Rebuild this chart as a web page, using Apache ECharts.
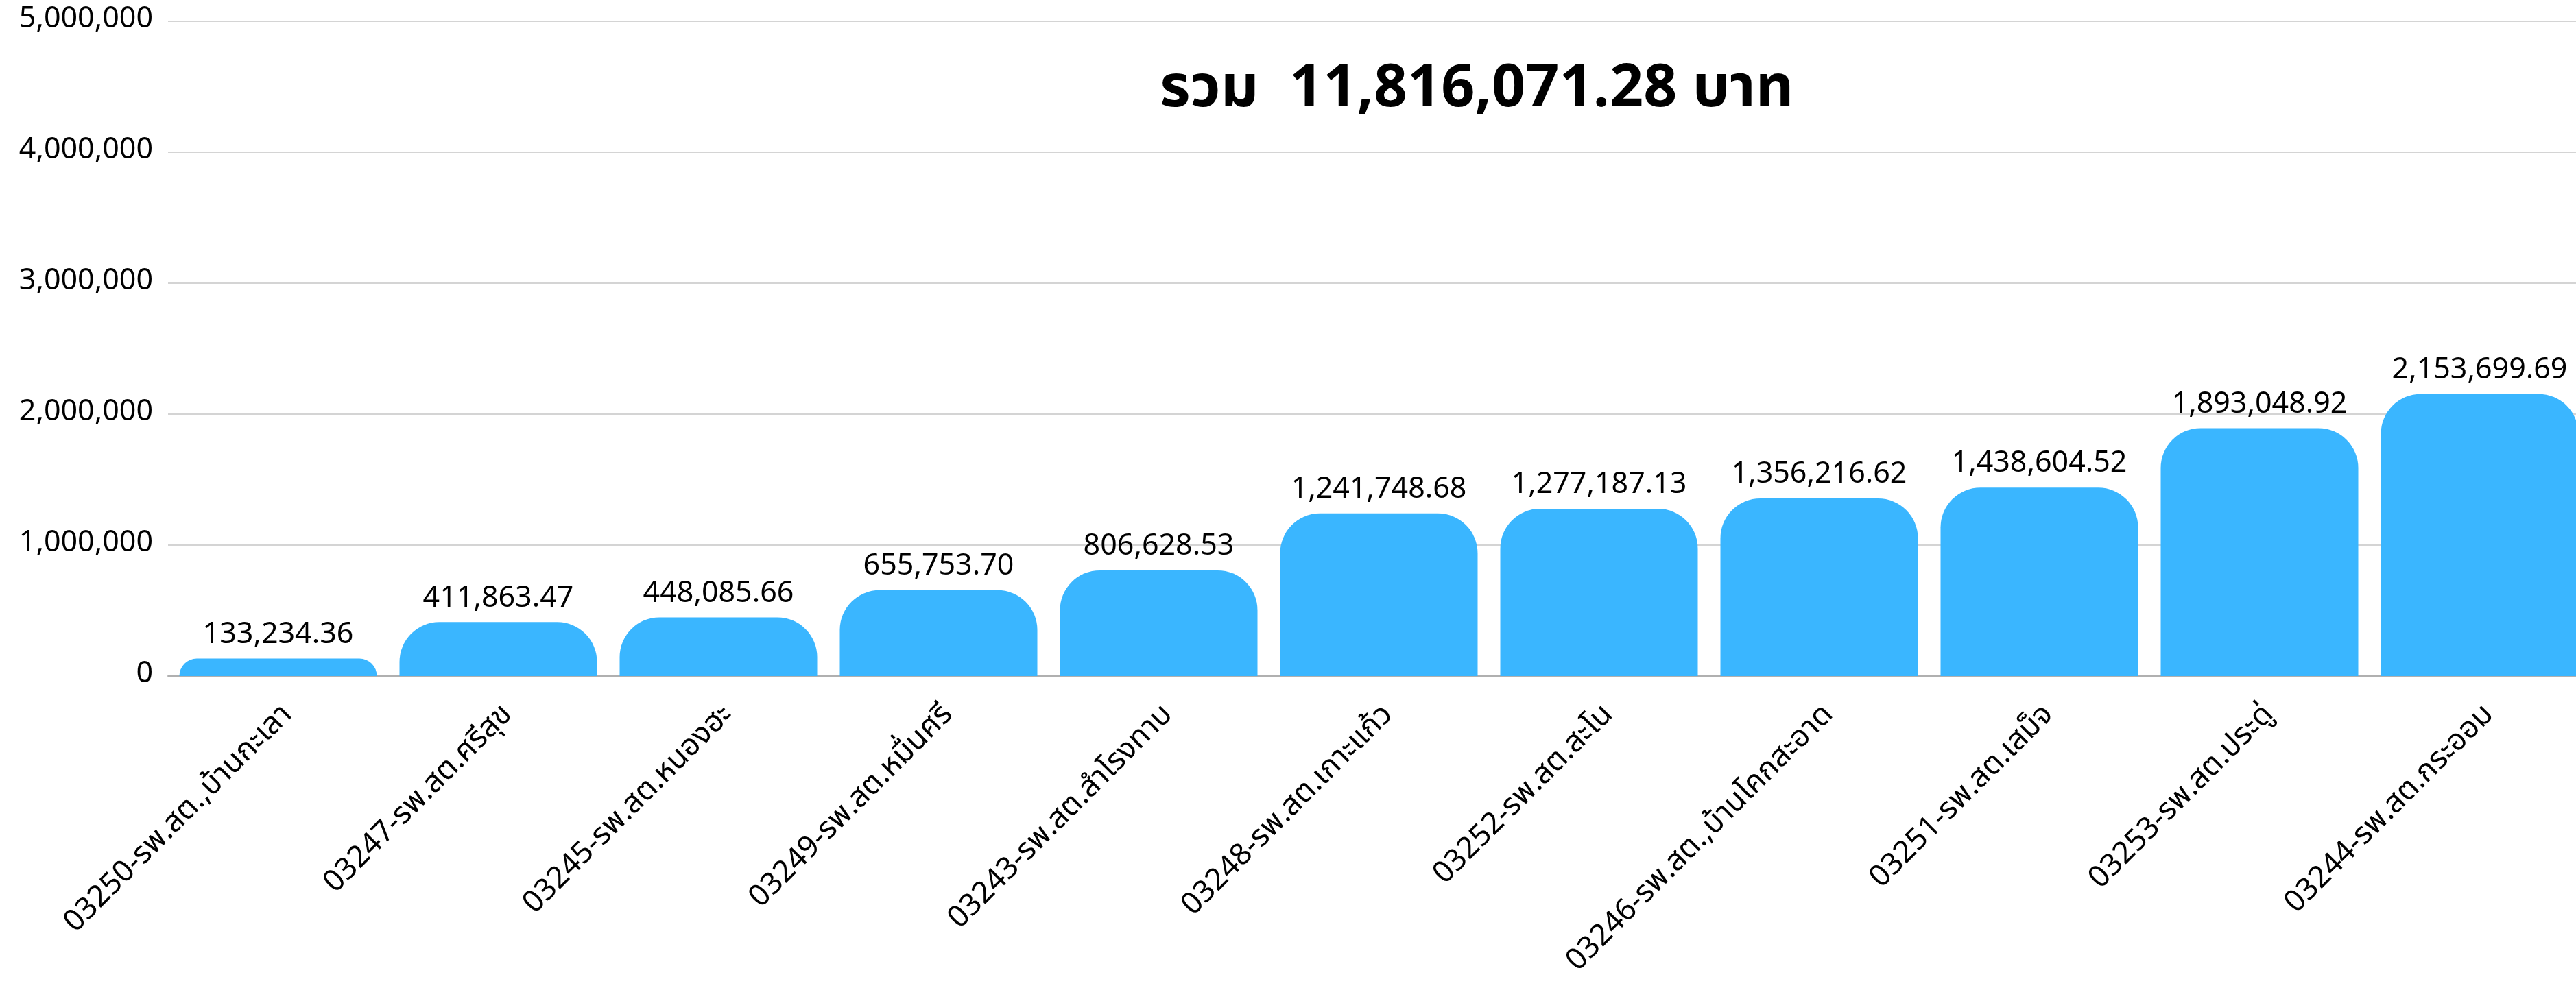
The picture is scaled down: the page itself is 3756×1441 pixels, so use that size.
<!DOCTYPE html>
<html>
<head>
<meta charset="utf-8">
<script src="https://cdn.jsdelivr.net/npm/echarts@6/dist/echarts.min.js"></script>
<style>
  html, body { margin: 0; padding: 0; background: #fff; }
  #chart { width: 3756px; height: 1441px; }
</style>
</head>
<body>
<div id="chart"></div>
<script>
// สถานบริการ (หมวดหมู่แกน x)
var categories = [
  '03250-รพ.สต.,บ้านกะเลา',
  '03247-รพ.สต.ศรีสุข',
  '03245-รพ.สต.หนองฮะ',
  '03249-รพ.สต.หมื่นศรี',
  '03243-รพ.สต.สำโรงทาบ',
  '03248-รพ.สต.เกาะแก้ว',
  '03252-รพ.สต.สะโน',
  '03246-รพ.สต.,บ้านโคกสะอาด',
  '03251-รพ.สต.เสม็จ',
  '03253-รพ.สต.ประดู่',
  '03244-รพ.สต.กระออม'
];

// ยอดเงิน (บาท)
var amounts = [
  133234.36, 411863.47, 448085.66, 655753.70, 806628.53,
  1241748.68, 1277187.13, 1356216.62, 1438604.52, 1893048.92, 2153699.69
];

var yMax = 5000000;
var yStep = 1000000;

var labelFont = "'Noto Sans Thai', 'Noto Sans', sans-serif";

function fmt(v, digits) {
  return v.toLocaleString('en-US', {
    minimumFractionDigits: digits,
    maximumFractionDigits: digits
  });
}

var total = amounts.reduce(function (a, b) { return a + b; }, 0);

var myChart = echarts.init(document.getElementById('chart'));

var option = {
  backgroundColor: '#fff',
  animation: false,
  title: {
    text: 'รวม  ' + fmt(total, 2) + ' บาท',
    left: 1686,
    top: 90,
    textStyle: {
      fontFamily: "'Liberation Sans Narrow', 'Noto Sans Thai', sans-serif",
      fontWeight: 'bold',
      fontSize: 86,
      color: '#000'
    }
  },
  // the last bar runs past the right edge in the original, so the grid is wider than the page
  grid: {
    left: 245,
    width: 3531,
    top: 31,
    height: 955,
    containLabel: false,
    outerBoundsMode: 'none'
  },
  xAxis: {
    type: 'category',
    data: categories,
    axisTick: { show: false },
    axisLine: { lineStyle: { color: '#b0b0b0', width: 2 } },
    axisLabel: {
      rotate: 45,
      interval: 0,
      margin: 36,
      verticalAlign: 'top',
      fontSize: 44,
      fontFamily: labelFont,
      color: '#000'
    }
  },
  yAxis: {
    type: 'value',
    min: 0,
    max: yMax,
    interval: yStep,
    axisLine: { show: false },
    axisTick: { show: false },
    splitLine: { lineStyle: { color: '#d4d4d4', width: 2 } },
    axisLabel: {
      margin: 22,
      fontSize: 43,
      fontFamily: labelFont,
      color: '#000',
      formatter: function (v) { return fmt(v, 0); }
    }
  },
  series: [
    {
      type: 'bar',
      data: amounts,
      barCategoryGap: 33,
      itemStyle: {
        color: '#3ab6ff',
        borderRadius: [58, 58, 0, 0]
      },
      label: {
        show: true,
        position: 'top',
        distance: 10,
        fontSize: 43,
        fontFamily: labelFont,
        color: '#000',
        formatter: function (p) { return fmt(p.value, 2); }
      }
    }
  ]
};

myChart.setOption(option);
</script>
</body>
</html>
